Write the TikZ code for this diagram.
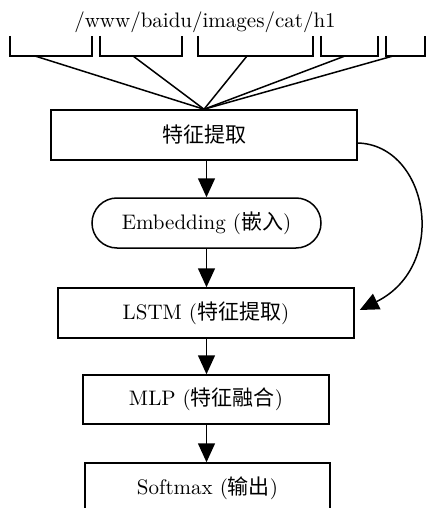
\documentclass[tikz,border=0pt]{standalone}
\usepackage{fontspec}
\newfontfamily\cjk{Noto Sans CJK SC}
\usetikzlibrary{arrows.meta,shapes.misc}
\begin{document}
\begin{tikzpicture}[x=0.5pt,y=-0.5pt,
  every node/.style={font=\fontsize{10.5}{13}\selectfont},
  line/.style={line width=0.75pt},
  box/.style={draw, line width=0.75pt, inner sep=0pt, minimum height=25pt},
  rbox/.style={box, rounded rectangle},
  arr/.style={line width=0.75pt, -{Triangle[width=8.5pt,length=9.5pt]}}
]
\useasboundingbox (0,0) rectangle (427,508);
\clip (0,0) rectangle (427,508);

\node (url) at (205,22) {/www/baidu/images/cat/h1};

\draw[line] (10,36) -- (10,56) -- (92,56) -- (92,36);
\draw[line] (100,36) -- (100,56) -- (182,56) -- (182,36);
\draw[line] (198,36) -- (198,56) -- (313,56) -- (313,36);
\draw[line] (321,36) -- (321,56) -- (378,56) -- (378,36);
\draw[line] (386,36) -- (386,56) -- (425,56) -- (425,36);

\coordinate (s1) at (35,56);
\coordinate (s2) at (133,56);
\coordinate (s3) at (247,56);
\coordinate (s4) at (345,56);
\coordinate (s5) at (393,56);

\node[box, minimum width=153pt] (fe) at (204,135) {\cjk 特征提取};
\node[rbox, minimum width=114.5pt] (emb) at (206.5,223) {Embedding ({\cjk 嵌入})};
\node[box, minimum width=148pt] (lstm) at (206,313) {LSTM ({\cjk 特征提取})};
\node[box, minimum width=123pt, minimum height=24.5pt] (mlp) at (206,399.5) {MLP ({\cjk 特征融合})};
\node[box, minimum width=122.5pt] (sm) at (207.5,488) {Softmax ({\cjk 输出})};

\foreach \s in {s1,s2,s3,s4,s5} \draw[line] (\s) -- (fe.north);

\draw[arr] (emb.north |- fe.south) -- (emb.north);
\draw[arr] (emb.south) -- (emb.south |- lstm.north);
\draw[arr] (emb.south |- lstm.south) -- (emb.south |- mlp.north);
\draw[arr] (emb.south |- mlp.south) -- (emb.south |- sm.north);

\draw[arr] ([yshift=-4pt]fe.east) .. controls (428,145) and (450,265) .. ([xshift=2.5pt,yshift=1.5pt]lstm.east);
\end{tikzpicture}
\end{document}
